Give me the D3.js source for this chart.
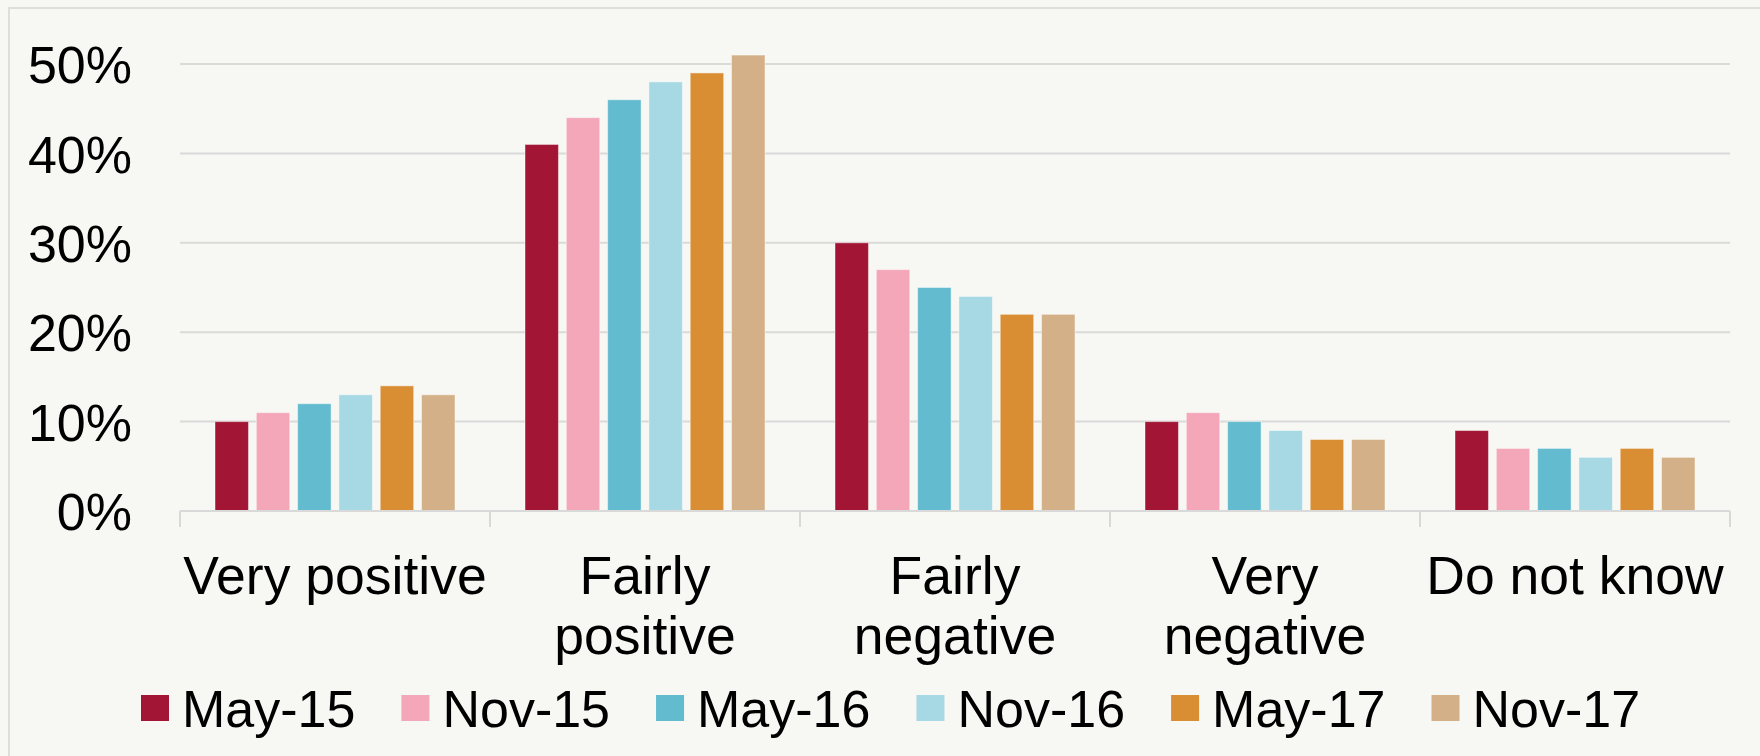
<!DOCTYPE html>
<html><head><meta charset="utf-8">
<script src="https://cdn.jsdelivr.net/npm/d3@7"></script>
<style>
html,body{margin:0;padding:0;background:#F7F7F3;}
svg{display:block;}
text{font-family:"Liberation Sans",Arial,sans-serif;fill:#000;}
</style></head>
<body>
<svg id="chart" width="1760" height="756"></svg>
<script>
const categories = [["Very positive"], ["Fairly", "positive"], ["Fairly", "negative"], ["Very", "negative"], ["Do not know"]];
const seriesNames = ["May-15", "Nov-15", "May-16", "Nov-16", "May-17", "Nov-17"];
const seriesColors = ["#A31535", "#F4A7B9", "#62BBCE", "#A6D9E3", "#D98E33", "#D3B087"];
const may15 = [10, 41, 30, 10, 9];
const nov15 = [11, 44, 27, 11, 7];
const may16 = [12, 46, 25, 10, 7];
const nov16 = [13, 48, 24, 9, 6];
const may17 = [14, 49, 22, 8, 7];
const nov17 = [13, 51, 22, 8, 6];
const yTicks = [0, 10, 20, 30, 40, 50];

const seriesValues = [may15, nov15, may16, nov16, may17, nov17];
const catKeys = categories.map(c => c.join(" "));

const svg = d3.select("#chart");
svg.append("rect").attr("x", 9).attr("y", 8).attr("width", 1760).attr("height", 800)
  .attr("fill", "#F7F7F3").attr("stroke", "#DEDEDE").attr("stroke-width", 2);

const mLeft = 180, mRight = 1730, mTop = 64, mBottom = 511;
const x0 = d3.scaleBand().domain(catKeys).range([mLeft, mRight]).padding(0);
const bw = x0.bandwidth();
const x1 = d3.scaleBand().domain(seriesNames).range([35, bw - 35]).paddingInner(0.19);
const y = d3.scaleLinear().domain([0, 50]).range([mBottom, mTop]);

// gridlines
svg.append("g").selectAll("line").data(yTicks.filter(t => t > 0)).join("line")
  .attr("x1", mLeft).attr("x2", mRight)
  .attr("y1", d => y(d)).attr("y2", d => y(d))
  .attr("stroke", "#DADADA").attr("stroke-width", 2);

// y axis labels
const yAxis = d3.axisLeft(y).tickValues(yTicks).tickFormat(d => d + "%").tickSize(0).tickPadding(48);
const gy = svg.append("g").attr("transform", `translate(${mLeft},0)`).call(yAxis);
gy.select(".domain").remove();
gy.selectAll("text").style("font-size", "52px").style("font-family", '"Liberation Sans",Arial,sans-serif').attr("fill", "#000").attr("dy", "0.36em");

// bars
const groups = svg.append("g").selectAll("g").data(catKeys).join("g")
  .attr("transform", d => `translate(${x0(d)},0)`);
groups.selectAll("rect").data((d, i) => seriesNames.map((s, j) => ({s, j, v: seriesValues[j][i]}))).join("rect")
  .attr("x", d => x1(d.s)).attr("width", x1.bandwidth())
  .attr("y", d => y(d.v)).attr("height", d => y(0) - y(d.v))
  .attr("fill", d => seriesColors[d.j])
  .attr("stroke", "rgba(255,255,255,0.45)").attr("stroke-width", 1);

// x axis
const xAxis = d3.axisBottom(x0).tickSize(0).tickFormat("");
const gx = svg.append("g").attr("transform", `translate(0,${mBottom})`).call(xAxis);
gx.select(".domain").attr("stroke", "#D9D9D9").attr("stroke-width", 2).attr("d", `M${mLeft},0H${mRight}`);
const boundaries = catKeys.map(k => x0(k)).concat([mRight]);
gx.selectAll("line.bound").data(boundaries).join("line").attr("class", "bound")
  .attr("x1", d => d).attr("x2", d => d).attr("y1", 0).attr("y2", 16)
  .attr("stroke", "#D9D9D9").attr("stroke-width", 2);

// category labels
const lab = svg.append("g").selectAll("text").data(categories).join("text")
  .attr("text-anchor", "middle")
  .attr("x", (d, i) => x0(catKeys[i]) + bw / 2)
  .attr("y", 594)
  .style("font-size", "53.5px");
lab.selectAll("tspan").data(d => d).join("tspan")
  .attr("x", function() { return d3.select(this.parentNode).attr("x"); })
  .attr("dy", (d, i) => i === 0 ? 0 : 60)
  .text(d => d);

// legend
const legend = svg.append("g");
let lx = 141;
seriesNames.forEach((s, i) => {
  const g = legend.append("g");
  g.append("rect").attr("x", lx).attr("y", 695).attr("width", 28).attr("height", 26).attr("fill", seriesColors[i]);
  const t = g.append("text").attr("x", lx + 41).attr("y", 726.5).style("font-size", "52px").text(s);
  const w = t.node().getComputedTextLength();
  lx = lx + 41 + w + 46;
});
</script>
</body></html>
